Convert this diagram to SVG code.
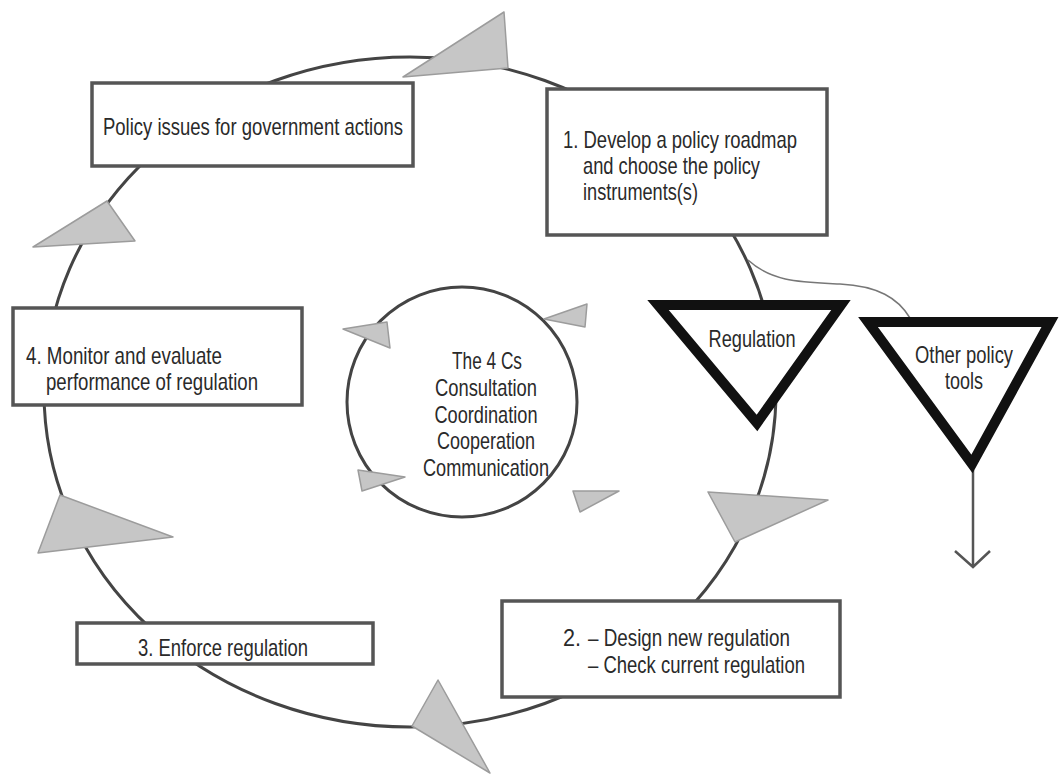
<svg xmlns="http://www.w3.org/2000/svg" width="1060" height="774" viewBox="0 0 1060 774">
  <style>
    .loop{fill:none;stroke:#444;stroke-width:3}
    .box{fill:#fff;stroke:#555;stroke-width:3.5}
    .tri{fill:#fff;stroke:#111;stroke-width:10;stroke-linejoin:miter}
    .head{fill:#c6c6c6;stroke:#9c9c9c;stroke-width:1.5;stroke-linejoin:round}
    .t{font-family:"Liberation Sans Narrow","Liberation Sans",Arial,sans-serif;font-size:24px;fill:#2a2a2a}
    .c{text-anchor:middle}
    .thin{fill:none;stroke:#777;stroke-width:1.5}
    .arr{fill:none;stroke:#555;stroke-width:2.5}
  </style>
  <rect width="1060" height="774" fill="#fff"/>
  <g id="connectors">
    <ellipse class="loop" cx="410" cy="392" rx="366" ry="335"/>
    <circle class="loop" cx="462" cy="402" r="115"/>
    <path class="thin" d="M748 260 C772 282,800 282,840 284 C878 286,898 298,910 318"/>
    <path class="arr" d="M973 470 L973 567 M955 551 L973 567 L990 551"/>
  </g>
  <g id="node-issues">
    <rect class="box" x="92" y="83" width="321" height="83"/>
    <text class="t" x="103" y="135" textLength="300" lengthAdjust="spacingAndGlyphs">Policy issues for government actions</text>
  </g>
  <g id="node-step1">
    <rect class="box" x="547" y="89" width="280" height="146"/>
    <text class="t" x="563" y="148" textLength="234" lengthAdjust="spacingAndGlyphs">1. Develop a policy roadmap</text>
    <text class="t" x="583" y="174" textLength="177" lengthAdjust="spacingAndGlyphs">and choose the policy</text>
    <text class="t" x="583" y="200" textLength="115" lengthAdjust="spacingAndGlyphs">instruments(s)</text>
  </g>
  <g id="node-step4">
    <rect class="box" x="13" y="308" width="289" height="97"/>
    <text class="t" x="26" y="364" textLength="196" lengthAdjust="spacingAndGlyphs">4. Monitor and evaluate</text>
    <text class="t" x="46" y="390" textLength="212" lengthAdjust="spacingAndGlyphs">performance of regulation</text>
  </g>
  <g id="node-step3">
    <rect class="box" x="77" y="623" width="296" height="41"/>
    <text class="t" x="138" y="656" textLength="170" lengthAdjust="spacingAndGlyphs">3. Enforce regulation</text>
  </g>
  <g id="node-step2">
    <rect class="box" x="502" y="601" width="338" height="96"/>
    <text class="t" x="563" y="646" textLength="18" lengthAdjust="spacingAndGlyphs">2.</text>
    <text class="t" x="588" y="646" textLength="202" lengthAdjust="spacingAndGlyphs">– Design new regulation</text>
    <text class="t" x="588" y="673" textLength="217" lengthAdjust="spacingAndGlyphs">– Check current regulation</text>
  </g>
  <g id="node-4cs">
    <text class="t c" x="487" y="369" textLength="70" lengthAdjust="spacingAndGlyphs">The 4 Cs</text>
    <text class="t c" x="486" y="396" textLength="102" lengthAdjust="spacingAndGlyphs">Consultation</text>
    <text class="t c" x="486" y="423" textLength="103" lengthAdjust="spacingAndGlyphs">Coordination</text>
    <text class="t c" x="486" y="449" textLength="98" lengthAdjust="spacingAndGlyphs">Cooperation</text>
    <text class="t c" x="486" y="476" textLength="126" lengthAdjust="spacingAndGlyphs">Communication</text>
  </g>
  <g id="node-regulation">
    <polygon class="tri" points="658,305 841,305 757,423"/>
    <text class="t c" x="752" y="347" textLength="87" lengthAdjust="spacingAndGlyphs">Regulation</text>
  </g>
  <g id="node-other">
    <polygon class="tri" points="868,322 1050,322 972,464"/>
    <text class="t c" x="964" y="363" textLength="98" lengthAdjust="spacingAndGlyphs">Other policy</text>
    <text class="t c" x="964" y="389" textLength="38" lengthAdjust="spacingAndGlyphs">tools</text>
  </g>
  <g id="arrowheads">
    <polygon class="head" points="403,77 504,12 508,68"/>
    <polygon class="head" points="33,247 107,201 135,241"/>
    <polygon class="head" points="60,495 173,537 38,553"/>
    <polygon class="head" points="412,726 438,680 490,773"/>
    <polygon class="head" points="708,492 828,500 735,542"/>
    <polygon class="head" points="343,329 387,322 390,348"/>
    <polygon class="head" points="544,319 587,304 585,327"/>
    <polygon class="head" points="358,470 362,491 405,477"/>
    <polygon class="head" points="573,491 619,491 580,512"/>
  </g>
</svg>
